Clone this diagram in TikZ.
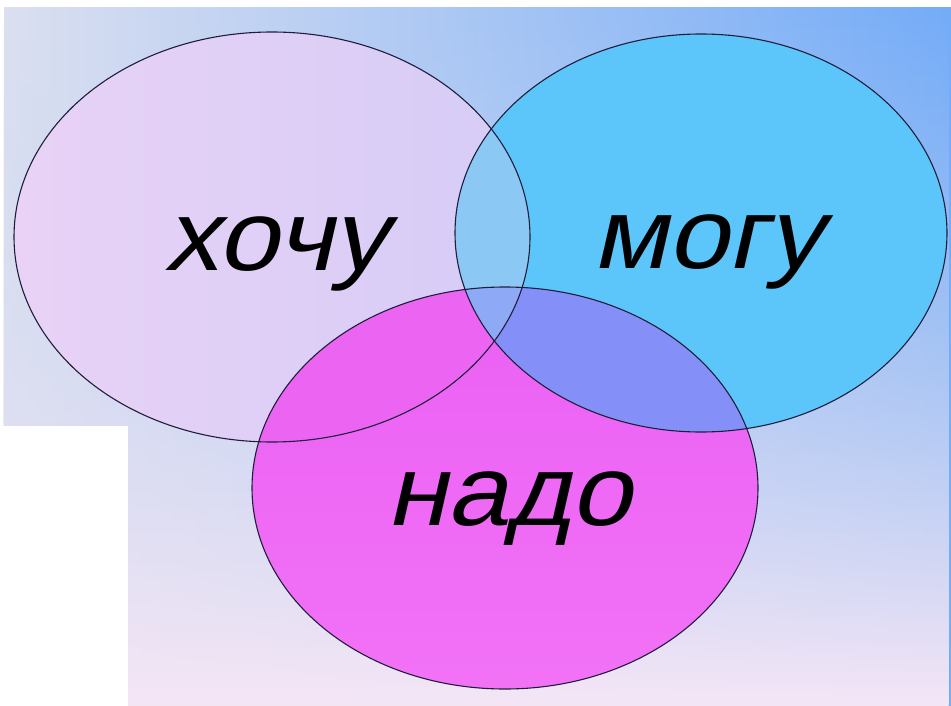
\documentclass[tikz,border=0pt]{standalone}
\usepackage{fontspec}
\setmainfont{Liberation Sans}
\newfontfamily\oblfont[FakeSlant=0.21]{Liberation Sans}
\usetikzlibrary{fadings}
\definecolor{bgL}{RGB}{220,224,241}
\definecolor{bgR}{RGB}{116,172,248}
\definecolor{bgMid}{RGB}{194,212,236}
\definecolor{bgBot}{RGB}{245,230,246}
\definecolor{kL}{RGB}{233,210,246}
\definecolor{kR}{RGB}{213,204,246}
\definecolor{mCol}{RGB}{92,198,250}
\definecolor{nTop}{RGB}{234,96,244}
\definecolor{nBot}{RGB}{242,114,246}
\definecolor{kmCol}{RGB}{140,200,244}
\definecolor{knCol}{RGB}{236,100,242}
\definecolor{mnCol}{RGB}{132,144,248}
\definecolor{kmnCol}{RGB}{142,170,246}
\definecolor{edge}{RGB}{30,30,60}
\tikzfading[name=vfade, top color=transparent!100, bottom color=transparent!0]
\newcommand{\pathK}{(272,237) ellipse [x radius=258, y radius=205]}
\newcommand{\pathM}{(701,233) ellipse [x radius=246, y radius=199]}
\newcommand{\pathN}{(505,488) ellipse [x radius=253, y radius=201]}
\tikzset{
  outline/.style={draw=edge, line width=1.1pt},
  word/.style={font=\fontsize{100}{100}\selectfont\oblfont, anchor=base, inner sep=0pt, xscale=1.09}
}
\begin{document}
\begin{tikzpicture}[x=1pt, y=-1pt]
\useasboundingbox (0,0) rectangle (951,706);
\fill[white] (0,0) rectangle (951,706);
% background
\shade[left color=bgL, right color=bgR] (4,8) rectangle (951,706);
\shade[top color=bgMid, bottom color=bgBot, path fading=vfade] (4,8) rectangle (951,706);
\fill[white] (0,426) rectangle (128,706);
% base fills
\shade[left color=kL, right color=kR] \pathK;
\fill[mCol] \pathM;
\shade[top color=nTop, bottom color=nBot] \pathN;
% overlaps
\begin{scope}
  \clip \pathK;
  \fill[kmCol] \pathM;
  \fill[knCol] \pathN;
\end{scope}
\begin{scope}
  \clip \pathM;
  \fill[mnCol] \pathN;
\end{scope}
\begin{scope}
  \clip \pathK;
  \clip \pathM;
  \fill[kmnCol] \pathN;
\end{scope}
% outlines
\draw[outline] \pathK;
\draw[outline] \pathM;
\draw[outline] \pathN;
% words
\node[word] (khochu) at (276,270) {хочу};
\node[word] (mogu) at (707,268) {могу};
\node[word] (nado) at (509,525) {надо};
\end{tikzpicture}
\end{document}
